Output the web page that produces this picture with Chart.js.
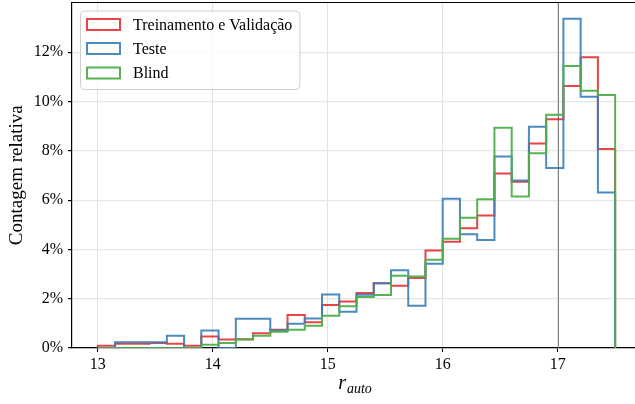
<!DOCTYPE html>
<html>
<head>
<meta charset="utf-8">
<script src="https://cdn.jsdelivr.net/npm/chart.js@4"></script>
<style>
  html, body { margin: 0; padding: 0; background: #fff; overflow: hidden; }
  #wrap { width: 642px; height: 404px; }
</style>
</head>
<body>
<div id="wrap"><canvas id="histChart" width="642" height="404"></canvas></div>
<script>
// ---------------- Data ----------------
const binEdges = [13.00, 13.15, 13.30, 13.45, 13.60, 13.75, 13.90, 14.05, 14.20, 14.35,
  14.50, 14.65, 14.80, 14.95, 15.10, 15.25, 15.40, 15.55, 15.70, 15.85,
  16.00, 16.15, 16.30, 16.45, 16.60, 16.75, 16.90, 17.05, 17.20, 17.35, 17.50];

// relative counts per bin, in %
const treinoVal = [0.09, 0.17, 0.17, 0.20, 0.17, 0.09, 0.47, 0.34, 0.36, 0.60,
  0.74, 1.34, 1.04, 1.74, 1.89, 2.23, 2.63, 2.53, 2.84, 3.96,
  4.31, 4.86, 5.38, 7.08, 6.75, 8.30, 9.28, 10.63, 11.80, 8.08];
const teste = [0.00, 0.23, 0.23, 0.23, 0.50, 0.00, 0.71, 0.00, 1.19, 1.19,
  0.71, 0.98, 1.20, 2.17, 1.47, 2.16, 2.63, 3.15, 1.71, 3.42,
  6.06, 4.62, 4.38, 7.77, 6.80, 8.98, 7.30, 13.36, 10.20, 6.31];
const blind = [0.00, 0.00, 0.00, 0.00, 0.00, 0.00, 0.13, 0.20, 0.34, 0.50,
  0.66, 0.74, 0.90, 1.31, 1.69, 2.07, 2.15, 2.93, 2.90, 3.58,
  4.43, 5.29, 6.04, 8.94, 6.15, 7.90, 9.47, 11.44, 10.44, 10.27];

const seriesNames = ["Treinamento e Validação", "Teste", "Blind"];
const seriesColors = ["rgba(228, 26, 28, 0.82)", "rgba(55, 126, 184, 0.9)", "rgba(77, 175, 74, 0.95)"];

const xTicks = [13, 14, 15, 16, 17];
const yTicks = [0, 2, 4, 6, 8, 10, 12];
const refLine = 17;

const FONT = "'Liberation Serif', 'DejaVu Serif', serif";

// ---------------- Helpers ----------------
// outline of a step histogram: (first edge, 0) ... (last edge, 0)
function stepPoints(values) {
  const pts = [{ x: binEdges[0], y: 0 }];
  values.forEach((v, i) => pts.push({ x: binEdges[i], y: v }));
  pts.push({ x: binEdges[binEdges.length - 1], y: values[values.length - 1] });
  pts.push({ x: binEdges[binEdges.length - 1], y: 0 });
  return pts;
}

// ---------------- Plugins ----------------
const framePlugin = {
  id: "frame",
  beforeDatasetsDraw(chart) {
    const { ctx, chartArea, scales } = chart;
    const px = Math.round(scales.x.getPixelForValue(refLine)) + 0.5;
    ctx.save();
    ctx.strokeStyle = "#808080";
    ctx.lineWidth = 1;
    ctx.beginPath();
    ctx.moveTo(px, chartArea.top);
    ctx.lineTo(px, chartArea.bottom);
    ctx.stroke();
    ctx.restore();
  },
  afterDraw(chart) {
    const { ctx, chartArea } = chart;
    ctx.save();
    // top spine
    ctx.strokeStyle = "#000";
    ctx.lineWidth = 1.2;
    ctx.beginPath();
    ctx.moveTo(chartArea.left, chartArea.top);
    ctx.lineTo(chartArea.right, chartArea.top);
    ctx.stroke();

    // axis titles
    ctx.fillStyle = "#000";
    ctx.font = "19px " + FONT;
    ctx.textAlign = "center";
    ctx.textBaseline = "middle";
    ctx.translate(17, (chartArea.top + chartArea.bottom) / 2);
    ctx.rotate(-Math.PI / 2);
    ctx.fillText("Contagem relativa", 0, 0);
    ctx.restore();

    ctx.save();
    ctx.fillStyle = "#000";
    ctx.textAlign = "left";
    ctx.textBaseline = "alphabetic";
    ctx.font = "italic 20px " + FONT;
    const wr = ctx.measureText("r").width;
    ctx.font = "italic 14px " + FONT;
    const ws = ctx.measureText("auto").width;
    const cx = (chartArea.left + chartArea.right) / 2 - 2;
    const x0 = cx - (wr + ws) / 2;
    ctx.font = "italic 20px " + FONT;
    ctx.fillText("r", x0, 389);
    ctx.font = "italic 14px " + FONT;
    ctx.fillText("auto", x0 + wr + 1, 393);

    // legend
    ctx.font = "16px " + FONT;
    const textX = 133;
    const maxW = Math.max(...seriesNames.map(n => ctx.measureText(n).width));
    const bx = 80, by = 10.5, bw = textX + maxW + 7 - bx, bh = 78.5;
    ctx.beginPath();
    ctx.roundRect(bx + 0.5, by + 0.5, bw, bh, 4);
    ctx.fillStyle = "rgba(255,255,255,0.8)";
    ctx.fill();
    ctx.strokeStyle = "#cfcfcf";
    ctx.lineWidth = 1;
    ctx.stroke();
    const rowsY = [24.5, 48.5, 73];
    seriesNames.forEach((name, i) => {
      ctx.strokeStyle = seriesColors[i];
      ctx.lineWidth = 2;
      ctx.strokeRect(87, rowsY[i] - 5.5, 33, 11);
      ctx.fillStyle = "#000";
      ctx.textBaseline = "middle";
      ctx.fillText(name, textX, rowsY[i] + 1);
    });
    ctx.restore();
  }
};

// ---------------- Chart ----------------
const seriesData = [treinoVal, teste, blind];

new Chart(document.getElementById("histChart"), {
  type: "line",
  data: {
    datasets: seriesData.map((vals, i) => ({
      label: seriesNames[i],
      data: stepPoints(vals),
      borderColor: seriesColors[i],
      backgroundColor: "transparent",
      borderWidth: 2,
      stepped: "before",
      pointRadius: 0,
      fill: false,
      order: 3 - i
    }))
  },
  options: {
    responsive: false,
    animation: false,
    events: [],
    layout: { autoPadding: false, padding: { left: 0, right: 1, top: 2.5, bottom: 0 } },
    plugins: {
      legend: { display: false },
      tooltip: { enabled: false }
    },
    scales: {
      x: {
        type: "linear",
        min: 12.775,
        max: 17.725,
        afterFit: s => { s.height = 56; s.paddingLeft = 0; s.paddingRight = 0; },
        afterBuildTicks: s => { s.ticks = xTicks.map(v => ({ value: v })); },
        ticks: {
          color: "#000",
          font: { family: FONT, size: 16 },
          padding: 3,
          maxRotation: 0,
          callback: v => String(v)
        },
        grid: { color: "#e2e2e2", lineWidth: 1, tickColor: "#000", tickLength: 4 },
        border: { color: "#000", width: 1.2 }
      },
      y: {
        type: "linear",
        min: 0,
        max: 14.02,
        afterFit: s => { s.width = 72; s.paddingTop = 0; s.paddingBottom = 0; },
        afterBuildTicks: s => { s.ticks = yTicks.map(v => ({ value: v })); },
        ticks: {
          color: "#000",
          font: { family: FONT, size: 16 },
          padding: 5,
          callback: v => v + "%"
        },
        grid: { color: "#e6e6e6", lineWidth: 1.2, tickColor: "#000", tickLength: 4 },
        border: { color: "#000", width: 1.2 }
      }
    }
  },
  plugins: [framePlugin]
});
</script>
</body>
</html>
